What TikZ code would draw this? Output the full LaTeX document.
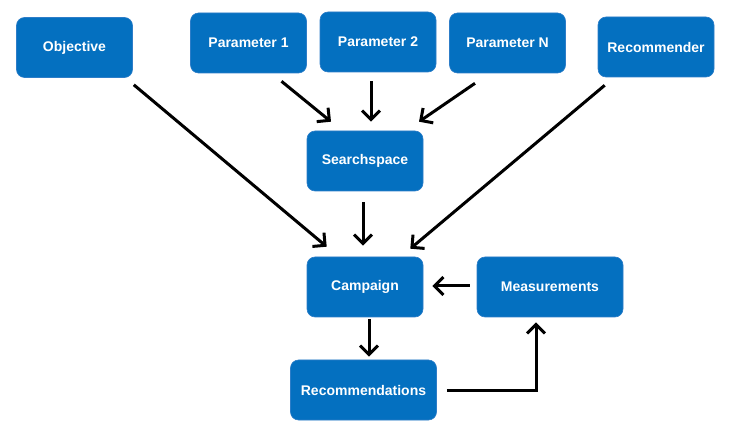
\documentclass[tikz,border=0pt]{standalone}
\usepackage{fontspec}
\setmainfont{Liberation Sans}
\usetikzlibrary{calc}
\usetikzlibrary{arrows.meta}
\definecolor{boxblue}{RGB}{4,112,192}
\definecolor{boxedge}{RGB}{45,125,200}
\tikzset{
  block/.style={draw=boxedge,fill=boxblue,line width=0.6pt,rounded corners=8pt,
    minimum width=116pt,minimum height=60pt,inner sep=0pt,text=white,
    font=\fontsize{14}{16}\selectfont\bfseries},
  wideblock/.style={block,minimum width=146pt},
  flow/.style={line width=3pt,-{Straight Barb[length=9pt,width=18pt]}}
}

\begin{document}
\begin{tikzpicture}[x=1pt,y=-1pt]
  \useasboundingbox (0,0) rectangle (734,438);

  % Inputs
  \node[block] (Objective) at (74.5,47.5) {Objective};
  \node[block] (Param1) at (248.5,43) {Parameter 1};
  \node[block] (Param2) at (378,42) {Parameter 2};
  \node[block] (ParamN) at (507.5,43) {Parameter N};
  \node[block] (Recommender) at (656,47) {Recommender};

  % Search space and campaign
  \node[block] (Searchspace) at (365,161) {Searchspace};
  \node[block] (Campaign) at (365,287) {Campaign};

  % Loop
  \node[wideblock] (Measurements) at (550,287) {Measurements};
  \node[wideblock] (Recommendations) at (363.5,390) {Recommendations};

  % Parameters into the search space
  \draw[flow] ($(Param1.south)+(33,8)$) -- ($(Searchspace.north)+(-34,-9)$);
  \draw[flow] ($(Param2.south)+(-7,9)$) -- ($(Searchspace.north)+(6,-9)$);
  \draw[flow] ($(ParamN.south)+(-32.5,10)$) -- ($(Searchspace.north)+(54,-9)$);

  % Into the campaign
  \draw[flow] ($(Objective.south east)+(1,7)$) -- ($(Campaign.north west)+(20,-10)$);
  \draw[flow] ($(Searchspace.south)+(-2,11)$) -- ($(Campaign.north)+(-2,-11)$);
  \draw[flow] ($(Recommender.south west)+(7,8)$) -- ($(Campaign.north east)+(-13,-8)$);

  % Campaign loop
  \draw[flow] ($(Campaign.south)+(4,2)$) -- ($(Recommendations.north)+(5.5,-3)$);
  \draw[flow] ($(Recommendations.east)+(10,1)$) -| ($(Measurements.south)+(-14,5)$);
  \draw[flow] ($(Measurements.west)+(-7,-1)$) -- ($(Campaign.east)+(9,-1)$);

\end{tikzpicture}
\end{document}
